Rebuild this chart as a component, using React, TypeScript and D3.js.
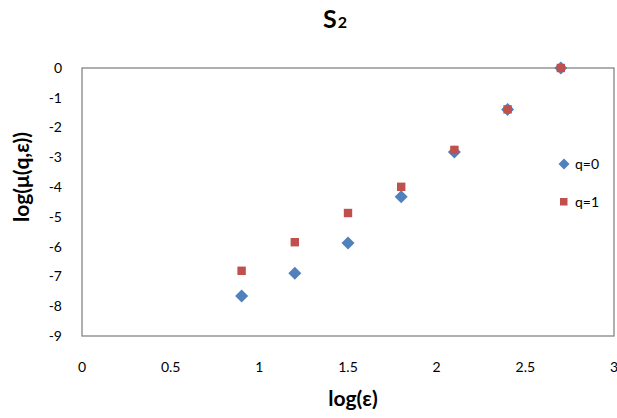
import React from "react";
import * as d3 from "d3";

const xValues = [0.9, 1.2, 1.5, 1.8, 2.1, 2.4, 2.7];
const q0Values = [-7.66, -6.89, -5.88, -4.32, -2.82, -1.39, 0];
const q1Values = [-6.81, -5.85, -4.87, -3.99, -2.75, -1.39, 0];
const xTicks = [0, 0.5, 1, 1.5, 2, 2.5, 3];
const yTicks = [0, -1, -2, -3, -4, -5, -6, -7, -8, -9];
const seriesNames = ["q=0", "q=1"];

const W = 617;
const H = 418;
const left = 82, right = 614, top = 68, bottom = 336;
const font = "Lato, 'Open Sans', sans-serif";
const blue = "#4F81BD";
const red = "#C0504D";

export default function App() {
  const x = d3.scaleLinear().domain([0, 3]).range([left, right]);
  const y = d3.scaleLinear().domain([-9, 0]).range([bottom, top]);
  const diamond = (cx: number, cy: number, r: number) =>
    `M${cx},${cy - r}L${cx + r},${cy}L${cx},${cy + r}L${cx - r},${cy}Z`;
  return (
    <svg width={W} height={H} style={{ position: "absolute", left: 0, top: 0, background: "#fff" }}>
      <rect x={0} y={0} width={W} height={H} fill="#fff" />
      <text x={323} y={28} textAnchor="start" fontFamily={font} fontWeight="bold" fontSize={25} fill="#000">
        S<tspan fontSize={16} dx={1}>2</tspan>
      </text>
      <rect x={left} y={top} width={right - left} height={bottom - top} fill="none" stroke="#868686" strokeWidth={1.3} />
      {yTicks.map((t) => (
        <text key={"y" + t} x={62} y={y(t)} dy="0.35em" textAnchor="end" fontFamily={font} fontSize={14} fill="#000">
          {t}
        </text>
      ))}
      {xTicks.map((t) => (
        <text key={"x" + t} x={x(t)} y={372} textAnchor="middle" fontFamily={font} fontSize={14} fill="#000">
          {t}
        </text>
      ))}
      <text x={353} y={406} textAnchor="middle" fontFamily={font} fontWeight="bold" fontSize={21} fill="#000">
        log(ε)
      </text>
      <text
        transform={`translate(29,177) rotate(-90)`}
        textAnchor="middle"
        fontFamily={font}
        fontWeight="bold"
        fontSize={21}
        fill="#000"
      >
        log(μ(q,ε))
      </text>
      {xValues.map((v, i) => (
        <path key={"d" + i} d={diamond(x(v), y(q0Values[i]), 6.5)} fill={blue} />
      ))}
      {xValues.map((v, i) => (
        <rect key={"s" + i} x={x(v) - 4.2} y={y(q1Values[i]) - 4.2} width={8.4} height={8.4} fill={red} />
      ))}
      <path d={diamond(564, 164, 5.5)} fill={blue} />
      <text x={575} y={164} dy="0.35em" fontFamily={font} fontSize={14} fill="#000">{seriesNames[0]}</text>
      <rect x={560} y={198} width={7.5} height={7.5} fill={red} />
      <text x={575} y={202} dy="0.35em" fontFamily={font} fontSize={14} fill="#000">{seriesNames[1]}</text>
    </svg>
  );
}
